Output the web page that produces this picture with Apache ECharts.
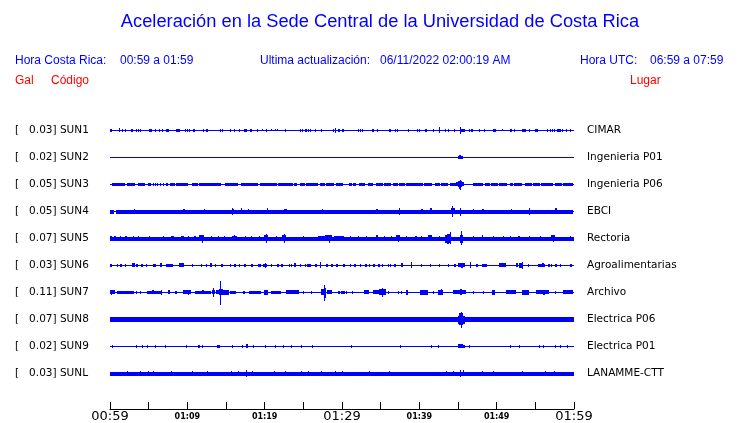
<!DOCTYPE html>
<html><head><meta charset="utf-8">
<script src="https://cdn.jsdelivr.net/npm/echarts@6/dist/echarts.min.js"></script>
<style>html,body{margin:0;padding:0;background:#fff}#c{width:740px;height:423px}</style>
</head><body><div id="c"></div>
<script>
// ---- data ----
const stations = ['SUN1','SUN2','SUN3','SUN4','SUN5','SUN6','SUN7','SUN8','SUN9','SUNL'];
const peakGal = ['0.03','0.02','0.05','0.05','0.07','0.03','0.11','0.07','0.02','0.03'];
const places = ['CIMAR','Ingenieria P01','Ingenieria P06','EBCI','Rectoria','Agroalimentarias','Archivo','Electrica P06','Electrica P01','LANAMME-CTT'];
const tickMinutes = [0,10,20,30,40,50,60];
const tickLabels = ['00:59','01:09','01:19','01:29','01:39','01:49','01:59'];

// each trace: [minute after 00:59, half amplitude (Gal), duration (min, default ~1 sample)]
const sun1 = [[0,0,60],[0.09,0.012,0.26],[1.21,0.019],[1.59,0.012],[2.03,0.012],[2.80,0.012,0.26],[3.45,0.012],[3.66,0.012],[3.97,0.012],[5.17,0.014,0.39],[5.82,0.012],[6.38,0.012],[6.81,0.012],[7.37,0.014,0.39],[8.62,0.014,0.52],[9.70,0.012],[10.04,0.012],[10.22,0.014],[10.82,0.012,0.26],[12.11,0.012],[12.46,0.014,0.26],[14.27,0.012],[14.53,0.012],[15.56,0.012],[16.08,0.012],[16.77,0.012],[17.37,0.014,0.39],[18.23,0.012,0.26],[19.01,0.012],[19.70,0.01],[20.22,0.012],[20.91,0.01],[21.34,0.01],[21.68,0.01],[22.63,0.012],[24.61,0.012],[24.87,0.012],[25.22,0.012],[25.47,0.012],[25.73,0.012],[25.99,0.012],[26.51,0.012],[27.37,0.012],[28.84,0.012],[29.18,0.023],[29.53,0.012,0.26],[30.04,0.012,0.26],[32.11,0.012],[32.41,0.012],[32.67,0.012],[33.97,0.012,0.26],[34.57,0.012],[36.08,0.012,0.26],[36.94,0.012],[37.16,0.012],[38.58,0.012],[39.74,0.012],[40.00,0.012],[40.78,0.012,0.2],[41.81,0.012],[42.67,0.028],[43.36,0.012],[43.71,0.012],[44.57,0.012],[45.26,0.032],[45.4,0.014,0.52],[46.47,0.012],[46.81,0.012,0.26],[47.76,0.012],[48.45,0.012],[49.57,0.012,0.26],[49.83,0.012],[50.78,0.01],[51.81,0.012,0.26],[52.33,0.012],[53.28,0.012,0.26],[53.54,0.012,0.26],[53.79,0.012],[54.23,0.012],[55.00,0.014,0.39],[56.55,0.012],[56.90,0.012],[57.16,0.012],[57.50,0.012],[57.93,0.012,0.39],[58.28,0.012],[58.54,0.012],[59.05,0.012],[59.49,0.012]];
const sun2 = [[0,0,60],[45.05,0.014,0.65],[45.15,0.02,0.2]];
const sun3 = [[0,0,60],[0.30,0.012,1.64],[2.28,0.012,1.04],[3.66,0.012,0.95],[5.04,0.012,0.35],[5.6,0.012],[5.9,0.012],[6.2,0.012],[6.5,0.012],[6.9,0.012],[7.33,0.012,0.21],[7.76,0.012,0.65],[8.62,0.012,1.51],[10.65,0.012,0.77],[11.55,0.012,2.89],[14.96,0.012,1.64],[17.03,0.012,2.15],[19.4,0.012,2.15],[21.77,0.012,1.94],[23.92,0.012,0.43],[24.57,0.012,0.65],[25.43,0.012,1.51],[27.16,0.012,0.64],[28.02,0.012,1.08],[29.31,0.012,0.95],[30.95,0.012,0.34],[31.47,0.012,0.43],[32.24,0.012,0.73],[33.40,0.012,0.65],[34.40,0.012,0.95],[35.56,0.012,0.86],[36.64,0.012,0.65],[37.41,0.012,0.74],[38.36,0.012,2.16],[40.73,0.012,1.08],[42.03,0.012,0.64],[42.89,0.012,0.86],[44.05,0.014,0.78],[44.83,0.019,1.08],[45.1,0.028,0.5],[45.25,0.037,0.3],[45.35,0.046],[46.98,0.012,1.3],[48.50,0.012,0.64],[49.36,0.012,0.86],[50.43,0.012,1.08],[51.73,0.012,0.43],[52.37,0.012,1.08],[53.67,0.012,0.86],[54.74,0.012,0.86],[55.82,0.012,1.51],[57.55,0.012,0.86],[58.62,0.012,1.3]];
const sun4 = [[0,0,60],[0,0.017,0.5],[0.9,0.017,59.1],[3.15,0.023],[9.55,0.023,0.3],[12.2,0.023],[15.8,0.023,0.3],[15.9,0.032],[17.03,0.028],[17.89,0.019],[20.35,0.028],[22.55,0.023,0.35],[27.46,0.023],[34.4,0.023,0.3],[37.42,0.032],[40.3,0.023,0.2],[41.4,0.028,0.3],[44.1,0.028,0.5],[44.31,0.051],[45.35,0.037],[46.98,0.023],[48.19,0.023,0.2],[51.94,0.023],[54.31,0.032],[57.55,0.028,0.2]];
const sun5 = [[0,0,60],[0,0.017,60],[0.1,0.023,0.3],[0.6,0.023,0.3],[1.42,0.023],[2.03,0.023,0.2],[3.02,0.023],[3.66,0.019],[5.17,0.019],[6.9,0.023],[8.0,0.023,0.4],[9.3,0.023,0.4],[10.13,0.019],[10.99,0.023,0.2],[11.6,0.028,0.7],[11.94,0.037],[13.15,0.023],[14.01,0.023],[14.87,0.023],[15.8,0.023,0.7],[16.16,0.028],[17.46,0.019],[18.32,0.023],[19.27,0.023],[20.0,0.028,0.5],[20.26,0.042],[21.55,0.023],[22.3,0.028,0.5],[22.54,0.042],[25.0,0.023],[26.9,0.023,0.9],[27.9,0.028,0.9],[28.32,0.037],[29.0,0.023,0.9],[29.74,0.023,0.65],[31.04,0.019],[32.11,0.019],[33.19,0.019],[34.4,0.028,0.2],[35.56,0.019],[36.42,0.019],[37.0,0.028,0.5],[37.29,0.032],[38.36,0.023],[39.44,0.023,0.2],[40.3,0.023],[41.2,0.028,0.5],[42.67,0.023],[43.4,0.037,0.5],[43.62,0.046,0.2],[43.8,0.042,0.45],[43.97,0.056],[45.3,0.037,0.4],[45.48,0.065],[46.98,0.023],[48.19,0.028],[49.57,0.023],[50.86,0.023],[51.73,0.023],[52.8,0.023,0.2],[54.31,0.023],[55.61,0.023],[57.1,0.028,0.5],[57.33,0.032],[59.49,0.023]];
const sun6 = [[0,0,60],[0,0.014,0.26],[0.99,0.012],[1.38,0.014,0.26],[1.94,0.012],[2.89,0.019,0.4],[3.45,0.014,0.26],[4.01,0.014,0.3],[4.74,0.012],[5.6,0.014,0.26],[5.91,0.012],[6.47,0.019,0.3],[7.33,0.014,0.86],[9.05,0.019,0.65],[10.65,0.014],[11.85,0.012],[12.5,0.014],[13.06,0.019,0.3],[13.58,0.014],[14.44,0.014,0.3],[15.52,0.012],[16.16,0.014,0.3],[16.81,0.012],[17.37,0.014,0.3],[18.32,0.014,0.26],[19.18,0.014,0.43],[19.9,0.014,0.5],[20.17,0.023],[20.91,0.012],[21.68,0.014,0.3],[22.2,0.014,0.3],[23.15,0.014],[23.49,0.014],[23.92,0.019,0.2],[24.57,0.014],[25.22,0.012],[25.6,0.014,0.5],[26.51,0.014,0.3],[27.24,0.028],[28.02,0.014,0.3],[28.67,0.014,0.3],[29.31,0.014,0.3],[30.17,0.014,0.3],[31.04,0.012],[31.68,0.014,0.3],[32.33,0.012],[33.1,0.014,0.3],[33.62,0.014],[34.05,0.014,0.3],[34.7,0.014,0.3],[35.26,0.012],[35.99,0.014],[36.21,0.014],[36.85,0.014,0.3],[37.72,0.019,0.3],[39.01,0.028],[40.3,0.012],[41.38,0.012],[42.67,0.012],[43.75,0.012],[44.61,0.014,0.3],[45.1,0.019,0.9],[45.5,0.023,0.2],[46.64,0.028],[47.42,0.014,0.3],[48.2,0.014,0.6],[50.43,0.019,0.86],[52.59,0.019,0.3],[53.0,0.023,0.5],[53.36,0.032],[54.1,0.014],[55.4,0.014,0.86],[55.9,0.019,0.2],[56.68,0.014,0.2],[57.11,0.014],[57.55,0.014,0.2],[58.19,0.014],[59.49,0.014,0.3]];
const sun7 = [[0,0,60],[0,0.019,0.65],[0.22,0.023,0.15],[0.99,0.012,2.24],[3.45,0.012],[3.88,0.012],[4.87,0.012,1.81],[5.5,0.019,0.3],[6.68,0.023],[7.6,0.019,0.3],[8.45,0.012,0.3],[9.48,0.019,1.08],[10.13,0.023],[11.08,0.012,2.07],[12.0,0.019,0.3],[13.2,0.019,0.4],[13.36,0.042],[13.8,0.019,0.5],[14.2,0.028,0.5],[14.35,0.111],[14.6,0.023,0.6],[15.2,0.023,0.3],[15.6,0.014,0.8],[17.24,0.014,0.3],[18.1,0.014,1.51],[20.0,0.023,0.5],[20.26,0.023],[20.91,0.014,1.29],[22.85,0.019,1.72],[25.0,0.012],[26.08,0.012],[27.4,0.028,0.7],[27.7,0.046,0.3],[27.8,0.074],[28.1,0.019,0.6],[28.67,0.012],[29.53,0.012,0.2],[29.9,0.014,0.3],[30.2,0.012,0.2],[30.6,0.012],[31.38,0.012],[32.97,0.019,0.65],[34.05,0.019,0.86],[34.9,0.028,0.88],[35.26,0.042],[36.0,0.012],[37.29,0.012],[37.72,0.012],[38.3,0.023,0.3],[40.09,0.023,1.07],[41.81,0.014],[42.5,0.023,0.6],[42.89,0.028],[44.4,0.019,1.72],[45.26,0.028,0.2],[46.98,0.014],[48.28,0.014],[49.4,0.023,0.4],[51.3,0.019,1.29],[53.36,0.023,0.95],[55.17,0.019,1.73],[56.0,0.023,0.2],[57.55,0.014],[58.62,0.019,1.3]];
const sun8 = [[0,0,60],[0,0.021,60],[11.42,0.023],[12.28,0.023],[13.88,0.019],[15.99,0.023],[37.5,0.023],[45.05,0.037,0.86],[45.2,0.056,0.5],[45.48,0.074],[54.31,0.023]];
const sun9 = [[0,0,60],[0.3,0.012],[3.49,0.012],[4.18,0.012],[4.87,0.012],[5.82,0.012],[7.24,0.012],[9.83,0.012],[11.4,0.012,0.3],[11.94,0.012],[13.88,0.012,0.2],[14.14,0.014],[15.82,0.012],[17.11,0.012],[17.6,0.019,0.2],[17.8,0.012],[18.54,0.012],[20.13,0.012],[21.34,0.012],[22.41,0.012],[23.41,0.012],[24.7,0.012],[26.16,0.012],[31.25,0.012],[37.5,0.012],[41.6,0.012],[42.46,0.012],[45.1,0.019,0.6],[45.6,0.012,0.4],[46.47,0.012],[51.81,0.012],[52.93,0.012],[55.52,0.012],[56.12,0.014],[57.67,0.012],[58.19,0.012],[59.14,0.012]];
const sunL = [[0,0,60],[0,0.017,60],[2.24,0.023],[3.92,0.023],[4.96,0.023],[5.65,0.023],[7.97,0.023],[10.65,0.023],[12.59,0.023],[15.73,0.023],[16.6,0.023],[17.67,0.032],[18.41,0.023],[21.25,0.023],[22.63,0.023],[24.79,0.023],[25.73,0.023],[27.37,0.023],[29.1,0.023],[30.09,0.023],[33.54,0.023],[36.12,0.023],[43.45,0.023],[44.4,0.023],[45.35,0.032],[45.69,0.028],[48.19,0.023],[49.57,0.023],[53.36,0.023],[56.25,0.023],[57.42,0.023]];
const traces = [sun1,sun2,sun3,sun4,sun5,sun6,sun7,sun8,sun9,sunL];

// ---- chart ----
const TRACE_GAP = 0.25; // Gal between trace baselines
const YMAX = TRACE_GAP * stations.length;
const BLUE = '#0000ff';
const chart = echarts.init(document.getElementById('c'), null, {renderer:'canvas'});

function renderItem(params, api) {
  const t0 = api.value(0), amp = api.value(1), dur = api.value(2), center = api.value(3);
  const p0 = api.coord([t0, center]);
  const p1 = api.coord([t0 + dur, center]);
  const h = Math.max(api.size([0, amp])[1], 0.5);
  const cy = Math.floor(p0[1]) + 0.5;
  const top = Math.round(cy - h);
  const hh = Math.max(1, Math.round(2 * h));
  const x = Math.floor(p0[0]);
  const w = Math.max(1, Math.round(p1[0] - p0[0]));
  return {type:'rect', shape:{x:x, y:top, width:w, height:hh}, style:{fill:BLUE}};
}

const series = traces.map((tr, i) => {
  const center = YMAX - TRACE_GAP * (i + 0.5);
  return {
    type:'custom', name: stations[i], xAxisIndex:0, yAxisIndex:0,
    renderItem: renderItem, silent:true,
    encode:{x:0, y:3},
    data: tr.map(e => [e[0], e[1], e[2] === undefined ? 0.13 : e[2], center])
  };
});

const txt = (x, y, s, color, size, align) => ({
  type:'text', x:x, y:y,
  style:{text:s, fill:color, font: size + 'px "Liberation Sans", Arial, sans-serif', textAlign: align || 'left', textVerticalAlign:'middle'}
});

const labelFont = {color:'#000', fontSize:10.5, fontFamily:'DejaVu Sans'};

chart.setOption({
  animation:false,
  backgroundColor:'#fff',
  grid:[
    {left:110, width:464, top:117, height:270},
    {left:110, width:464, top:380, height:29}
  ],
  xAxis:[
    {type:'value', gridIndex:0, min:0, max:60, interval:5, show:false},
    {type:'value', gridIndex:1, min:0, max:60, interval:5, position:'bottom',
     axisLine:{show:true, lineStyle:{color:'#000', width:1}},
     axisTick:{show:true, inside:true, length:7, lineStyle:{color:'#000'}},
     splitLine:{show:false},
     axisLabel:{
       margin:1, showMinLabel:true, showMaxLabel:true,
       formatter: v => {
         const k = tickMinutes.indexOf(v);
         if (k < 0) return '';
         return (v % 30 === 0 ? '{big|' : '{small|') + tickLabels[k] + '}';
       },
       rich:{
         big:{fontSize:13, fontFamily:'DejaVu Sans', color:'#000'},
         small:{fontSize:8, fontWeight:'bold', fontFamily:'DejaVu Sans', color:'#000', padding:[3,0,0,0]}
       }
     }}
  ],
  yAxis:[
    {type:'value', gridIndex:0, min:0, max:YMAX, show:false},
    {type:'category', gridIndex:0, data: stations.map((s,i) => '[   ' + peakGal[i] + '] ' + s), inverse:true, position:'left',
     axisLine:{show:false}, axisTick:{show:false}, splitLine:{show:false},
     axisLabel:Object.assign({align:'left', margin:95}, labelFont)},
    {type:'category', gridIndex:0, data: places, inverse:true, position:'right',
     axisLine:{show:false}, axisTick:{show:false}, splitLine:{show:false},
     axisLabel:Object.assign({align:'left', margin:13}, labelFont)},
    {type:'value', gridIndex:1, min:0, max:1, show:false}
  ],
  graphic:[
    txt(380, 22, 'Aceleración en la Sede Central de la Universidad de Costa Rica', BLUE, 18.3, 'center'),
    txt(15, 61, 'Hora Costa Rica:', BLUE, 12),
    txt(120, 61, '00:59 a 01:59', BLUE, 12),
    txt(260, 61, 'Ultima actualización:', BLUE, 12),
    txt(380, 61, '06/11/2022 02:00:19 AM', BLUE, 12),
    txt(580, 61, 'Hora UTC:', BLUE, 12),
    txt(650, 61, '06:59 a 07:59', BLUE, 12),
    txt(15, 81, 'Gal', '#ff0000', 12),
    txt(51, 81, 'Código', '#ff0000', 12),
    txt(630, 81, 'Lugar', '#ff0000', 12)
  ],
  series: series
});
</script></body></html>
